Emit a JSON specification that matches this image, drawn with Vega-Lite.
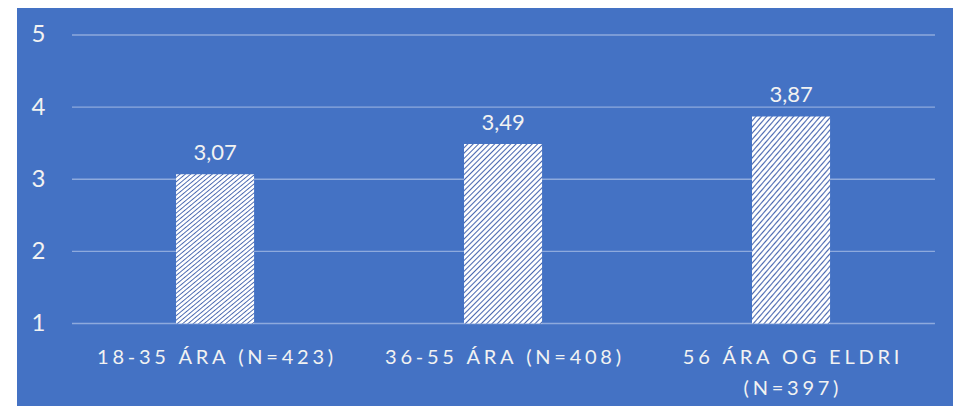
{
  "$schema": "https://vega.github.io/schema/vega-lite/v6.json",
  "width": 936,
  "height": 398,
  "autosize": {"type": "none"},
  "padding": {"left": 17, "top": 8, "right": 10, "bottom": 0},
  "background": "#ffffff",
  "config": {
    "view": {"fill": "#4472C4", "stroke": null},
    "font": "Lato",
    "locale": {"number": {"decimal": ",", "thousands": ".", "grouping": [3], "currency": ["", " kr."]}}
  },
  "resolve": {"scale": {"x": "independent"}},
  "layer": [
    {
      "data": {"values": [{"grid": 1}, {"grid": 2}, {"grid": 3}, {"grid": 4}, {"grid": 5}]},
      "mark": {"type": "rule", "color": "#8eaadd", "strokeWidth": 1.3},
      "encoding": {
        "y": {
          "field": "grid", "type": "quantitative",
          "scale": {"domain": [-0.144, 5.374], "nice": false, "zero": false},
          "axis": {
            "title": null, "values": [1, 2, 3, 4, 5], "domain": false, "ticks": false, "tickSize": 0, "grid": false,
            "labelAlign": "left", "labelBaseline": "middle", "labelPadding": -14, "labelFontSize": 24,
            "labelColor": "#f2f2f2", "labelFont": "Lato", "format": "d"
          }
        },
        "x": {"datum": 0, "type": "quantitative", "scale": {"domain": [-0.0637, 1.0209], "nice": false, "zero": false}, "axis": null},
        "x2": {"datum": 1}
      }
    },
    {
      "data": {"values": [
        {"group": "18-35 ÁRA (N=423)", "value": 3.07},
        {"group": "36-55 ÁRA (N=408)", "value": 3.49},
        {"group": "56 ÁRA OG ELDRI (N=397)", "value": 3.87}
      ]},
      "encoding": {
        "x": {
          "field": "group", "type": "nominal", "sort": null,
          "scale": {"paddingInner": 0.729, "paddingOuter": 0.4896, "align": 0.564},
          "axis": {
            "title": null, "orient": "bottom", "domain": false, "ticks": false, "tickSize": 0, "grid": false,
            "labelPadding": -59, "labelBaseline": "top", "labelAngle": 0, "labelFontSize": 20,
            "labelColor": "#f2f2f2", "labelFont": "Lato", "labelLimit": 0, "labelLineHeight": 31,
            "labelExpr": "datum.value == '56 ÁRA OG ELDRI (N=397)' ? [join(split('56 ÁRA OG ELDRI', ''), '\u2009\u200a'), join(split('(N=397)', ''), '\u2009\u200a')] : join(split(datum.value, ''), '\u2009\u200a')"
          }
        }
      },
      "layer": [
        {
          "mark": {
            "type": "bar",
            "fill": {
              "gradient": "linear", "x1": 0, "y1": 0, "x2": 0.5246, "y2": 1.2067,
              "stops": [
                {"offset": 0, "color": "#ffffff"}, {"offset": 0.0094, "color": "#ffffff"}, {"offset": 0.015, "color": "#4a68b0"},
                {"offset": 0.0208, "color": "#ffffff"}, {"offset": 0.0302, "color": "#ffffff"}, {"offset": 0.0358, "color": "#4a68b0"},
                {"offset": 0.0417, "color": "#ffffff"}, {"offset": 0.0511, "color": "#ffffff"}, {"offset": 0.0567, "color": "#4a68b0"},
                {"offset": 0.0625, "color": "#ffffff"}, {"offset": 0.0719, "color": "#ffffff"}, {"offset": 0.0775, "color": "#4a68b0"},
                {"offset": 0.0833, "color": "#ffffff"}, {"offset": 0.0927, "color": "#ffffff"}, {"offset": 0.0983, "color": "#4a68b0"},
                {"offset": 0.1042, "color": "#ffffff"}, {"offset": 0.1136, "color": "#ffffff"}, {"offset": 0.1192, "color": "#4a68b0"},
                {"offset": 0.125, "color": "#ffffff"}, {"offset": 0.1344, "color": "#ffffff"}, {"offset": 0.14, "color": "#4a68b0"},
                {"offset": 0.1458, "color": "#ffffff"}, {"offset": 0.1552, "color": "#ffffff"}, {"offset": 0.1608, "color": "#4a68b0"},
                {"offset": 0.1667, "color": "#ffffff"}, {"offset": 0.1761, "color": "#ffffff"}, {"offset": 0.1817, "color": "#4a68b0"},
                {"offset": 0.1875, "color": "#ffffff"}, {"offset": 0.1969, "color": "#ffffff"}, {"offset": 0.2025, "color": "#4a68b0"},
                {"offset": 0.2083, "color": "#ffffff"}, {"offset": 0.2177, "color": "#ffffff"}, {"offset": 0.2233, "color": "#4a68b0"},
                {"offset": 0.2292, "color": "#ffffff"}, {"offset": 0.2386, "color": "#ffffff"}, {"offset": 0.2442, "color": "#4a68b0"},
                {"offset": 0.25, "color": "#ffffff"}, {"offset": 0.2594, "color": "#ffffff"}, {"offset": 0.265, "color": "#4a68b0"},
                {"offset": 0.2708, "color": "#ffffff"}, {"offset": 0.2802, "color": "#ffffff"}, {"offset": 0.2858, "color": "#4a68b0"},
                {"offset": 0.2917, "color": "#ffffff"}, {"offset": 0.3011, "color": "#ffffff"}, {"offset": 0.3067, "color": "#4a68b0"},
                {"offset": 0.3125, "color": "#ffffff"}, {"offset": 0.3219, "color": "#ffffff"}, {"offset": 0.3275, "color": "#4a68b0"},
                {"offset": 0.3333, "color": "#ffffff"}, {"offset": 0.3427, "color": "#ffffff"}, {"offset": 0.3483, "color": "#4a68b0"},
                {"offset": 0.3542, "color": "#ffffff"}, {"offset": 0.3636, "color": "#ffffff"}, {"offset": 0.3692, "color": "#4a68b0"},
                {"offset": 0.375, "color": "#ffffff"}, {"offset": 0.3844, "color": "#ffffff"}, {"offset": 0.39, "color": "#4a68b0"},
                {"offset": 0.3958, "color": "#ffffff"}, {"offset": 0.4052, "color": "#ffffff"}, {"offset": 0.4108, "color": "#4a68b0"},
                {"offset": 0.4167, "color": "#ffffff"}, {"offset": 0.4261, "color": "#ffffff"}, {"offset": 0.4317, "color": "#4a68b0"},
                {"offset": 0.4375, "color": "#ffffff"}, {"offset": 0.4469, "color": "#ffffff"}, {"offset": 0.4525, "color": "#4a68b0"},
                {"offset": 0.4583, "color": "#ffffff"}, {"offset": 0.4677, "color": "#ffffff"}, {"offset": 0.4733, "color": "#4a68b0"},
                {"offset": 0.4792, "color": "#ffffff"}, {"offset": 0.4886, "color": "#ffffff"}, {"offset": 0.4942, "color": "#4a68b0"},
                {"offset": 0.5, "color": "#ffffff"}, {"offset": 0.5094, "color": "#ffffff"}, {"offset": 0.515, "color": "#4a68b0"},
                {"offset": 0.5208, "color": "#ffffff"}, {"offset": 0.5302, "color": "#ffffff"}, {"offset": 0.5358, "color": "#4a68b0"},
                {"offset": 0.5417, "color": "#ffffff"}, {"offset": 0.5511, "color": "#ffffff"}, {"offset": 0.5567, "color": "#4a68b0"},
                {"offset": 0.5625, "color": "#ffffff"}, {"offset": 0.5719, "color": "#ffffff"}, {"offset": 0.5775, "color": "#4a68b0"},
                {"offset": 0.5833, "color": "#ffffff"}, {"offset": 0.5927, "color": "#ffffff"}, {"offset": 0.5983, "color": "#4a68b0"},
                {"offset": 0.6042, "color": "#ffffff"}, {"offset": 0.6136, "color": "#ffffff"}, {"offset": 0.6192, "color": "#4a68b0"},
                {"offset": 0.625, "color": "#ffffff"}, {"offset": 0.6344, "color": "#ffffff"}, {"offset": 0.64, "color": "#4a68b0"},
                {"offset": 0.6458, "color": "#ffffff"}, {"offset": 0.6552, "color": "#ffffff"}, {"offset": 0.6608, "color": "#4a68b0"},
                {"offset": 0.6667, "color": "#ffffff"}, {"offset": 0.6761, "color": "#ffffff"}, {"offset": 0.6817, "color": "#4a68b0"},
                {"offset": 0.6875, "color": "#ffffff"}, {"offset": 0.6969, "color": "#ffffff"}, {"offset": 0.7025, "color": "#4a68b0"},
                {"offset": 0.7083, "color": "#ffffff"}, {"offset": 0.7177, "color": "#ffffff"}, {"offset": 0.7233, "color": "#4a68b0"},
                {"offset": 0.7292, "color": "#ffffff"}, {"offset": 0.7386, "color": "#ffffff"}, {"offset": 0.7442, "color": "#4a68b0"},
                {"offset": 0.75, "color": "#ffffff"}, {"offset": 0.7594, "color": "#ffffff"}, {"offset": 0.765, "color": "#4a68b0"},
                {"offset": 0.7708, "color": "#ffffff"}, {"offset": 0.7802, "color": "#ffffff"}, {"offset": 0.7858, "color": "#4a68b0"},
                {"offset": 0.7917, "color": "#ffffff"}, {"offset": 0.8011, "color": "#ffffff"}, {"offset": 0.8067, "color": "#4a68b0"},
                {"offset": 0.8125, "color": "#ffffff"}, {"offset": 0.8219, "color": "#ffffff"}, {"offset": 0.8275, "color": "#4a68b0"},
                {"offset": 0.8333, "color": "#ffffff"}, {"offset": 0.8427, "color": "#ffffff"}, {"offset": 0.8483, "color": "#4a68b0"},
                {"offset": 0.8542, "color": "#ffffff"}, {"offset": 0.8636, "color": "#ffffff"}, {"offset": 0.8692, "color": "#4a68b0"},
                {"offset": 0.875, "color": "#ffffff"}, {"offset": 0.8844, "color": "#ffffff"}, {"offset": 0.89, "color": "#4a68b0"},
                {"offset": 0.8958, "color": "#ffffff"}, {"offset": 0.9052, "color": "#ffffff"}, {"offset": 0.9108, "color": "#4a68b0"},
                {"offset": 0.9167, "color": "#ffffff"}, {"offset": 0.9261, "color": "#ffffff"}, {"offset": 0.9317, "color": "#4a68b0"},
                {"offset": 0.9375, "color": "#ffffff"}, {"offset": 0.9469, "color": "#ffffff"}, {"offset": 0.9525, "color": "#4a68b0"},
                {"offset": 0.9583, "color": "#ffffff"}, {"offset": 0.9677, "color": "#ffffff"}, {"offset": 0.9733, "color": "#4a68b0"},
                {"offset": 0.9792, "color": "#ffffff"}, {"offset": 0.9886, "color": "#ffffff"}, {"offset": 0.9942, "color": "#4a68b0"},
                {"offset": 1, "color": "#ffffff"}
              ]
            }
          },
          "encoding": {
            "y": {"field": "value", "type": "quantitative", "scale": {"domain": [-0.144, 5.374], "nice": false, "zero": false}},
            "y2": {"datum": 1}
          }
        },
        {
          "mark": {"type": "text", "baseline": "alphabetic", "dy": -14, "fontSize": 22, "font": "Lato", "color": "#f2f2f2"},
          "encoding": {
            "y": {"field": "value", "type": "quantitative"},
            "text": {"field": "value", "type": "quantitative", "format": ".2f"}
          }
        }
      ]
    }
  ]
}
